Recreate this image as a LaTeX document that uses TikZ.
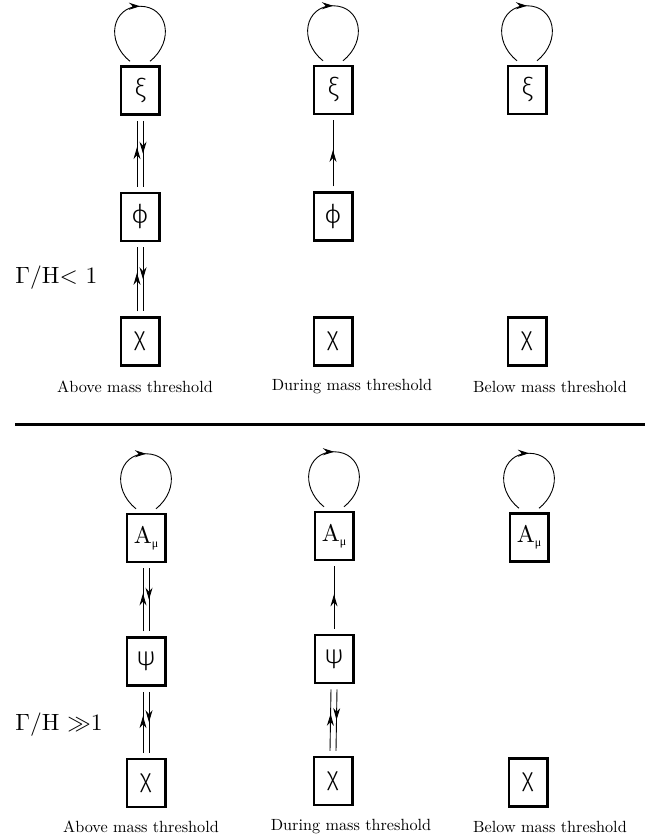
\documentclass[tikz,border=0pt]{standalone}
\usepackage{fontspec}
\IfFontExistsTF{Fira Sans Light}{\newfontfamily\grk{Fira Sans Light}}{\newfontfamily\grk{Fira Sans}}
\newfontfamily\grks{Liberation Serif}
\usetikzlibrary{arrows.meta,decorations.markings,calc}
\tikzset{
  box/.style={draw, line width=2.5pt, minimum width=38.5pt, minimum height=48pt, inner sep=0pt, font=\grk\fontsize{26}{30}\selectfont},
  conn/.style={line width=0.9pt},
  midarrow/.style={postaction={decorate}, decoration={markings, mark=at position #1 with {\arrow{Stealth[length=12pt,width=7pt]}}}},
  looparrow/.style={postaction={decorate}, decoration={markings, mark=at position #1 with {\arrow{Stealth[length=11pt,width=7pt]}}}},
  lbl/.style={font=\fontsize{10}{12}\selectfont, scale=1.62},
  ratio/.style={font=\fontsize{10}{12}\selectfont, scale=2.35, anchor=west, inner sep=0pt},
}
\newcommand\myloop[1]{\draw[conn, looparrow=0.5] ($(#1.north)+(-10,-4)$) .. controls ($(#1.north)+(-35,-24)$) and ($(#1.north)+(-28,-59)$) .. ($(#1.north)+(0,-59)$) .. controls ($(#1.north)+(28,-59)$) and ($(#1.north)+(35,-24)$) .. ($(#1.north)+(10,-4)$);}
\newcommand\uparr[2]{\draw[conn, midarrow=0.55] ($(#1.north)+(0,-5)$) -- ($(#2.south)+(0,5)$);}
\newcommand\dblarr[2]{%
  \draw[conn, midarrow=0.6] ($(#1.north)+(-3,-5)$) -- ($(#2.south)+(-3,5)$);
  \draw[conn, midarrow=0.5] ($(#2.south)+(3,5)$) -- ($(#1.north)+(3,-5)$);}
\newcommand\Amu{\rmfamily\fontsize{10}{12}\selectfont\scalebox{2.4}{A}\raisebox{-4pt}{\grks\fontsize{12}{14}\selectfont μ}}
\begin{document}
\begin{tikzpicture}[x=1pt,y=-1pt]
\useasboundingbox (0,0) rectangle (649,839);
% ---------- top panel ----------
\node[box] (xi1) at (140,90.5) {ξ};
\node[box] (phi1) at (140,217) {ϕ};
\node[box] (chi1) at (140,341.5) {χ};
\node[box] (xi2) at (333,90) {ξ};
\node[box] (phi2) at (333,216.5) {ϕ};
\node[box] (chi2) at (333,341.5) {χ};
\node[box] (xi3) at (527,90) {ξ};
\node[box] (chi3) at (527,341.5) {χ};
\myloop{xi1}
\myloop{xi2}
\myloop{xi3}
\dblarr{phi1}{xi1}
\dblarr{chi1}{phi1}
\uparr{phi2}{xi2}
\node[ratio] (r1) at (15,278) {$\Gamma/$H$<$ 1};
\node[lbl] (l1) at (135,387) {Above mass threshold};
\node[lbl] (l2) at (352,387) {During mass threshold};
\node[lbl] (l3) at (550,387) {Below mass threshold};
% ---------- separator ----------
\coordinate (sepL) at (15,424);
\coordinate (sepR) at (645,424);
\draw[line width=3pt] (sepL) -- (sepR);
% ---------- bottom panel ----------
\node[box] (A1) at (146,538) {\Amu};
\node[box] (psi1) at (146,661.5) {ψ};
\node[box] (chib1) at (146,783) {χ};
\node[box] (A2) at (334,536) {\Amu};
\node[box] (psi2) at (334,659) {ψ};
\node[box] (chib2) at (333,781) {χ};
\node[box] (A3) at (529,537.5) {\Amu};
\node[box] (chib3) at (528,782.5) {χ};
\myloop{A1}
\myloop{A2}
\myloop{A3}
\dblarr{psi1}{A1}
\dblarr{chib1}{psi1}
\uparr{psi2}{A2}
\dblarr{chib2}{psi2}
\node[ratio] (r2) at (15,725) {$\Gamma/$H $\gg$1};
\node[lbl] (m1) at (141,827) {Above mass threshold};
\node[lbl] (m2) at (351,827) {During mass threshold};
\node[lbl] (m3) at (550,827) {Below mass threshold};
\end{tikzpicture}
\end{document}
